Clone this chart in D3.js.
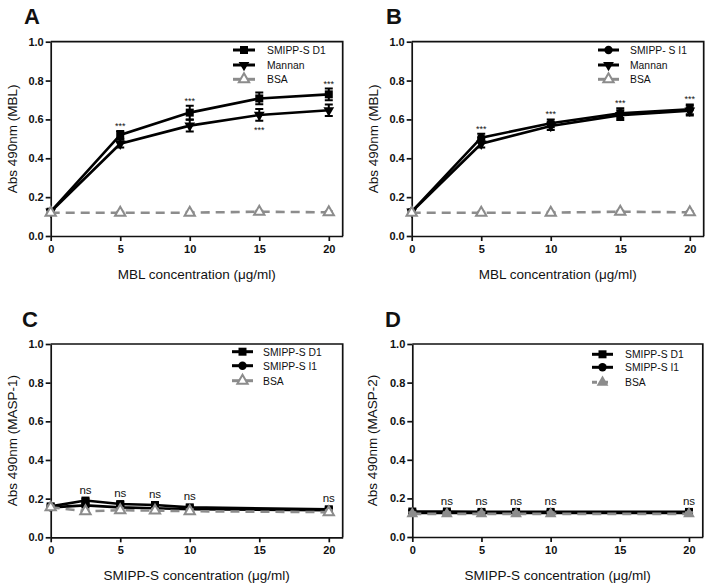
<!DOCTYPE html>
<html><head><meta charset="utf-8">
<script src="https://cdn.jsdelivr.net/npm/d3@7"></script>
<style>
body{margin:0;background:#fff}
svg{display:block}
text{font-family:"Liberation Sans",Arial,Helvetica,sans-serif;fill:#111}
</style>
</head><body>
<svg id="chart" width="710" height="587"></svg>
<script>
// ---------- data ----------
const yTicks = [0, 0.2, 0.4, 0.6, 0.8, 1.0];
const xTicks = [0, 5, 10, 15, 20];

const xMBL = [0, 5, 10, 15, 20];
const aD1 = [0.125, 0.52, 0.635, 0.708, 0.729];
const aD1Err = [0.01, 0.02, 0.035, 0.03, 0.03];
const aMannan = [0.125, 0.475, 0.568, 0.623, 0.647];
const aMannanErr = [0.01, 0.02, 0.03, 0.03, 0.03];
const aBSA = [0.12, 0.12, 0.12, 0.125, 0.122];
const aBSAErr = [0.005, 0.005, 0.005, 0.005, 0.005];

const bI1 = [0.125, 0.506, 0.58, 0.632, 0.652];
const bI1Err = [0.01, 0.02, 0.02, 0.025, 0.025];
const bMannan = [0.125, 0.475, 0.566, 0.622, 0.645];
const bMannanErr = [0.01, 0.02, 0.02, 0.025, 0.025];
const bBSA = [0.12, 0.12, 0.12, 0.125, 0.122];
const bBSAErr = [0.005, 0.005, 0.005, 0.005, 0.005];

const xSMIPP = [0, 2.5, 5, 7.5, 10, 20];
const cD1 = [0.16, 0.19, 0.172, 0.167, 0.155, 0.145];
const cI1 = [0.155, 0.165, 0.155, 0.15, 0.145, 0.14];
const cBSA = [0.155, 0.135, 0.14, 0.138, 0.135, 0.13];
const cErr = [0.01, 0.01, 0.01, 0.01, 0.01, 0.01];

const dD1 = [0.132, 0.132, 0.13, 0.13, 0.13, 0.13];
const dI1 = [0.125, 0.125, 0.125, 0.125, 0.125, 0.125];
const dBSA = [0.12, 0.12, 0.12, 0.12, 0.12, 0.12];
const dErr = [0.008, 0.008, 0.008, 0.008, 0.008, 0.008];

const annA = [{x: 5, pos: "above"}, {x: 10, pos: "above"}, {x: 15, pos: "below"}, {x: 20, pos: "above"}];
const annB = [{x: 5, pos: "above"}, {x: 10, pos: "above"}, {x: 15, pos: "above"}, {x: 20, pos: "above"}];
const annC = [{x: 2.5, pos: "above"}, {x: 5, pos: "above"}, {x: 7.5, pos: "above"}, {x: 10, pos: "above"}, {x: 20, pos: "above"}];
const annD = [{x: 2.5, pos: "above"}, {x: 5, pos: "above"}, {x: 7.5, pos: "above"}, {x: 10, pos: "above"}, {x: 20, pos: "above"}];

// ---------- styling / layout ----------
const GRAY = "#8c8c8c";
const svg = d3.select("#chart");

function mk(xs, vs, es) { return xs.map((x, i) => ({x, v: vs[i], e: es[i]})); }

const panels = [
  {letter: "A", lx: 24, ly: 24, left: 50.7, top: 41.7, w: 292, h: 194.3,
   yTitle: "Abs 490nm (MBL)", xTitle: "MBL concentration (\u03bcg/ml)", ytx: 17, xty: 279,
   legend: {x0: 233, x1: 255, tx: 267, ys: [50, 65, 79.3]},
   series: [
     {name: "SMIPP-S D1", data: mk(xMBL, aD1, aD1Err), marker: "square", color: "#000"},
     {name: "Mannan", data: mk(xMBL, aMannan, aMannanErr), marker: "tridown", color: "#000"},
     {name: "BSA", data: mk(xMBL, aBSA, aBSAErr), marker: "triopen", color: GRAY, dashed: true}
   ], ann: annA, annText: "***"},
  {letter: "B", lx: 386, ly: 24, left: 411.7, top: 41.7, w: 292, h: 194.3,
   yTitle: "Abs 490nm (MBL)", xTitle: "MBL concentration (\u03bcg/ml)", ytx: 378, xty: 279,
   legend: {x0: 598, x1: 619, tx: 630, ys: [50, 65, 79.3]},
   series: [
     {name: "SMIPP- S I1", data: mk(xMBL, bI1, bI1Err), marker: "circle", color: "#000"},
     {name: "Mannan", data: mk(xMBL, bMannan, bMannanErr), marker: "tridown", color: "#000"},
     {name: "BSA", data: mk(xMBL, bBSA, bBSAErr), marker: "triopen", color: GRAY, dashed: true}
   ], ann: annB, annText: "***"},
  {letter: "C", lx: 22, ly: 327, left: 50.7, top: 344, w: 292, h: 193.3,
   yTitle: "Abs 490nm (MASP-1)", xTitle: "SMIPP-S concentration (\u03bcg/ml)", ytx: 17, xty: 580,
   legend: {x0: 232, x1: 253, tx: 263, ys: [351.7, 365.7, 380.7]},
   series: [
     {name: "SMIPP-S D1", data: mk(xSMIPP, cD1, cErr), marker: "square", color: "#000"},
     {name: "SMIPP-S I1", data: mk(xSMIPP, cI1, cErr), marker: "circle", color: "#000"},
     {name: "BSA", data: mk(xSMIPP, cBSA, cErr), marker: "triopen", color: GRAY, dashed: true}
   ], ann: annC, annText: "ns"},
  {letter: "D", lx: 385, ly: 327, left: 412.3, top: 344, w: 290.5, h: 193,
   yTitle: "Abs 490nm (MASP-2)", xTitle: "SMIPP-S concentration (\u03bcg/ml)", ytx: 377, xty: 580,
   legend: {x0: 592, x1: 613, tx: 625, ys: [354.3, 367.3, 382.3]},
   series: [
     {name: "SMIPP-S D1", data: mk(xSMIPP, dD1, dErr), marker: "square", color: "#000"},
     {name: "SMIPP-S I1", data: mk(xSMIPP, dI1, dErr), marker: "circle", color: "#000"},
     {name: "BSA", data: mk(xSMIPP, dBSA, dErr), marker: "trifill", color: GRAY, dashed: true, legendDashed: true}
   ], ann: annD, annText: "ns"}
];

function drawMarker(sel, type, color, cx, cy) {
  let path, fill = color, stroke = "none", rot = 0, sw = 0;
  if (type === "square") path = d3.symbol(d3.symbolSquare, 64)();
  else if (type === "circle") path = d3.symbol(d3.symbolCircle, 55)();
  else if (type === "tridown") { path = d3.symbol(d3.symbolTriangle, 50)(); rot = 180; }
  else if (type === "triopen") { path = d3.symbol(d3.symbolTriangle, 46)(); fill = "#fff"; stroke = color; sw = 2; }
  else if (type === "trifill") { path = d3.symbol(d3.symbolTriangle, 60)(); }
  sel.append("path").attr("d", path)
    .attr("transform", `translate(${cx},${cy}) rotate(${rot})`)
    .attr("fill", fill).attr("stroke", stroke).attr("stroke-width", sw);
}

panels.forEach(p => {
  const g = svg.append("g");
  const x = d3.scaleLinear().domain([0, 21]).range([p.left, p.left + p.w]);
  const y = d3.scaleLinear().domain([0, 1]).range([p.top + p.h, p.top]);

  // frame (top & right)
  g.append("path")
    .attr("d", `M${x(0)},${y(1)}H${x(21)}V${y(0)}`)
    .attr("fill", "none").attr("stroke", "#111").attr("stroke-width", 1.7);

  const ya = g.append("g").attr("transform", `translate(${x(0)},0)`)
    .call(d3.axisLeft(y).tickValues(yTicks).tickFormat(d3.format(".1f")).tickSize(5).tickSizeOuter(0).tickPadding(2));
  const xa = g.append("g").attr("transform", `translate(0,${y(0)})`)
    .call(d3.axisBottom(x).tickValues(xTicks).tickFormat(d3.format("d")).tickSize(5).tickSizeOuter(0).tickPadding(4));
  [ya, xa].forEach(a => {
    a.select(".domain").attr("stroke", "#111").attr("stroke-width", 1.7);
    a.selectAll(".tick line").attr("stroke", "#111").attr("stroke-width", 1.7);
    a.selectAll(".tick text").attr("font-size", 11).attr("font-weight", "bold")
      .attr("font-family", "'Liberation Sans',Arial,sans-serif").attr("fill", "#111");
  });

  // titles
  g.append("text").attr("transform", `translate(${p.ytx},${(y(0) + y(1)) / 2}) rotate(-90)`)
    .attr("text-anchor", "middle").attr("font-size", 13.5).text(p.yTitle);
  g.append("text").attr("x", (x(0) + x(21)) / 2).attr("y", p.xty)
    .attr("text-anchor", "middle").attr("font-size", 13.5).text(p.xTitle);
  g.append("text").attr("x", p.lx).attr("y", p.ly).attr("font-size", 22)
    .attr("font-weight", "bold").text(p.letter);

  const line = d3.line().x(d => x(d.x)).y(d => y(d.v));

  p.series.forEach(s => {
    const sg = g.append("g");
    sg.append("path").attr("d", line(s.data)).attr("fill", "none")
      .attr("stroke", s.color).attr("stroke-width", 2.6)
      .attr("stroke-dasharray", s.dashed ? "9,6" : null);
    s.data.forEach(d => {
      const cx = x(d.x), y1 = y(d.v + d.e), y2 = y(d.v - d.e);
      sg.append("path").attr("d", `M${cx - 4},${y1}H${cx + 4}M${cx},${y1}V${y2}M${cx - 4},${y2}H${cx + 4}`)
        .attr("stroke", s.color).attr("stroke-width", 2).attr("fill", "none");
    });
    s.data.forEach(d => drawMarker(sg, s.marker, s.color, x(d.x), y(d.v)));
  });

  // annotations
  p.ann.forEach(a => {
    const vals = p.series.filter(s => s.color === "#000").map(s => s.data.find(d => d.x === a.x));
    let ty;
    if (p.annText === "***") {
      if (a.pos === "above") ty = d3.min(vals, d => y(d.v + d.e)) - 2;
      else ty = d3.max(vals, d => y(d.v - d.e)) + 12;
    } else {
      ty = d3.min(vals, d => y(d.v + d.e)) - 5;
    }
    g.append("text").attr("x", x(a.x)).attr("y", ty).attr("text-anchor", "middle")
      .attr("font-size", p.annText === "***" ? 9 : 11.5).text(p.annText);
  });

  // legend
  p.series.forEach((s, i) => {
    const ly = p.legend.ys[i];
    const lg = g.append("g");
    lg.append("line").attr("x1", p.legend.x0).attr("x2", p.legend.x1).attr("y1", ly).attr("y2", ly)
      .attr("stroke", s.color).attr("stroke-width", 3)
      .attr("stroke-dasharray", s.legendDashed ? "5,6" : null);
    drawMarker(lg, s.marker, s.color, (p.legend.x0 + p.legend.x1) / 2, ly);
    lg.append("text").attr("transform", `translate(${p.legend.tx},${ly + 4}) scale(0.9,1)`)
      .attr("font-size", 11.5).text(s.name);
  });
});
</script>
</body></html>
